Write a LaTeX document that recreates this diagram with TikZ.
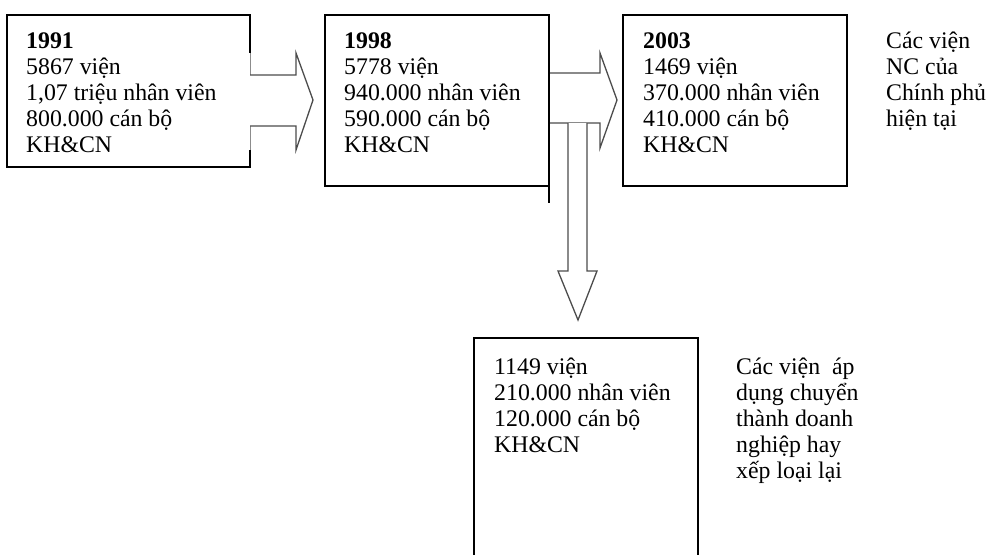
\documentclass[tikz,border=0pt]{standalone}
\usepackage{fontspec}
\setmainfont{Liberation Serif}
\newcommand{\mylines}[1]{\begin{tabular}[t]{@{}l@{}}#1\end{tabular}}
\begin{document}
\begin{tikzpicture}[x=1pt,y=-1pt,
  box/.style={draw=black,line width=1.5pt,rectangle,inner sep=0pt,outer sep=0pt,anchor=north west},
  txt/.style={anchor=base west,inner sep=0pt,font=\fontsize{23.8}{26.2}\selectfont},
  barrow/.style={draw=black!70,line width=1.3pt,fill=white,line join=miter}]
\useasboundingbox[fill=white] (0,0) rectangle (987,554);

% arrow 1998 -> 2003 with the downward branch (drawn below the boxes)
\draw[barrow] (549,73) -- (600,73) -- (600,53) -- (617,100) -- (600,148) -- (600,123) -- (549,123) -- cycle;
\draw[barrow] (568,123) -- (568,271) -- (558,271) -- (578,320) -- (597,271) -- (587,271) -- (587,123);

% boxes
\node[box,minimum width=243pt,minimum height=152pt] (b1) at (7,15) {};
\node[box,minimum width=224pt,minimum height=171pt] (b2) at (325,15) {};
\node[box,minimum width=224pt,minimum height=171pt] (b3) at (623,15) {};
\node[box,minimum width=224pt,minimum height=240pt] (b4) at (474,338) {};
\coordinate (b2x) at (549,203);
\draw[line width=1.5pt] (b2.south east) -- (b2x);

% arrow 1991 -> 1998
\draw[white,line width=2pt] (250,53) -- (250,150);
\draw[black!45,line width=0.8pt] (250,53) -- (250,150);
\draw[barrow] (250,75) -- (296,75) -- (296,53) -- (313,100) -- (296,150) -- (296,126) -- (250,126);

% texts
\node[txt] (t1) at (26,48) {\mylines{\textbf{1991}\\5867 viện\\1,07 triệu nhân viên\\800.000 cán bộ\\KH\&CN}};
\node[txt] (t2) at (344,48) {\mylines{\textbf{1998}\\5778 viện\\940.000 nhân viên\\590.000 cán bộ\\KH\&CN}};
\node[txt] (t3) at (643,48) {\mylines{\textbf{2003}\\1469 viện\\370.000 nhân viên\\410.000 cán bộ\\KH\&CN}};
\node[txt] (n3) at (886,48) {\mylines{Các viện\\NC của\\Chính phủ\\hiện tại}};
\node[txt] (t4) at (494,374) {\mylines{1149 viện\\210.000 nhân viên\\120.000 cán bộ\\KH\&CN}};
\node[txt] (n4) at (736,374) {\mylines{Các viện~ áp\\dụng chuyển\\thành doanh\\nghiệp hay\\xếp loại lại}};
\end{tikzpicture}
\end{document}
